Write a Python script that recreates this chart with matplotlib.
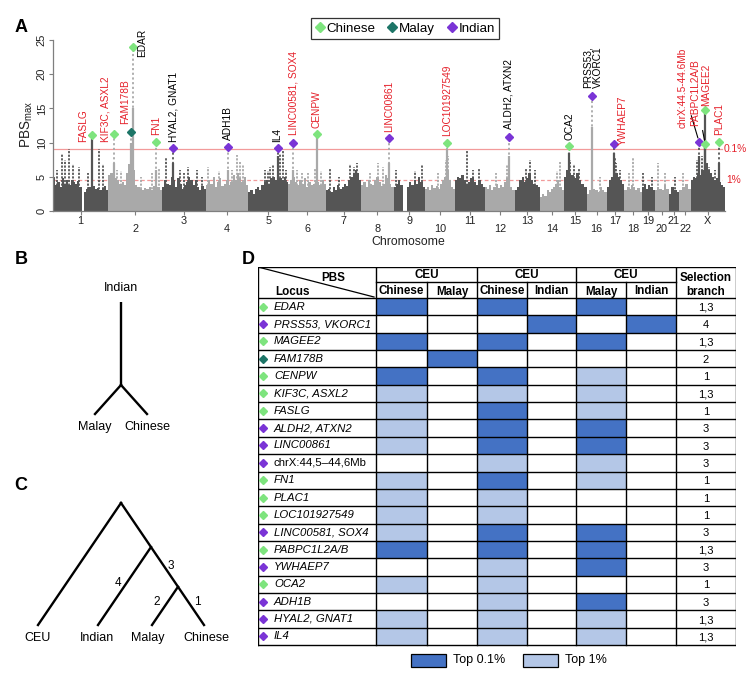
import matplotlib
matplotlib.use("Agg")
import matplotlib.pyplot as plt
from matplotlib.lines import Line2D
from matplotlib.patches import Rectangle
from matplotlib.transforms import blended_transform_factory

plt.rcParams['font.family'] = ['Liberation Sans', 'DejaVu Sans']
plt.rcParams['mathtext.fontset'] = 'custom'
plt.rcParams['mathtext.rm'] = 'Liberation Sans'
plt.rcParams['mathtext.it'] = 'Liberation Sans:italic'

W, H = 748, 674

# ---------------- data: panel A (Manhattan plot) ----------------
chrom_names = [str(i) for i in range(1, 23)] + ['X']
chrom_len = [249, 243, 198, 191, 181, 171, 159, 146, 141, 136, 135, 134,
             115, 107, 103, 90, 81, 78, 59, 63, 48, 51, 155]

base_profile = [
    [4.8, 3.8, 4.2, 3.5, 4.8, 4.0, 4.5, 3.8, 4.6, 4.2, 4.0, 4.4, 3.5, 0.0, 2.8, 3.2, 3.5, 3.0, 3.6, 3.2, 3.4, 3.0, 3.3, 3.6, 3.0],
    [5.2, 5.5, 5.0, 4.8, 4.5, 4.0, 4.2, 3.8, 5.5, 6.8, 7.0, 6.0, 3.8, 3.5, 3.2, 3.0, 3.4, 3.2, 3.5, 3.0, 3.6, 4.5, 3.5, 3.0],
    [3.5, 4.5, 4.0, 3.8, 5.0, 4.5, 3.5, 4.8, 4.0, 3.2, 3.8, 4.2, 5.0, 4.5, 3.8, 4.5, 3.5, 3.0, 3.6, 3.2],
    [3.8, 4.5, 4.0, 5.0, 3.5, 4.2, 4.8, 3.6, 4.0, 4.5, 3.8, 4.2, 5.2, 4.5, 5.5, 4.8, 4.2, 5.0, 3.8],
    [2.8, 3.0, 2.5, 3.2, 3.5, 3.0, 3.8, 4.2, 4.5, 4.0, 4.8, 5.0, 4.5, 5.2, 4.8, 4.5, 5.0, 4.2],
    [4.0, 4.5, 5.0, 4.2, 3.8, 4.5, 4.0, 4.8, 3.5, 4.2, 3.8, 4.0, 4.6, 4.2, 3.8, 4.5, 4.0],
    [3.0, 3.2, 2.8, 3.5, 3.0, 3.8, 3.2, 3.5, 4.0, 3.6, 4.5, 5.0, 5.5, 6.0, 5.5, 4.5],
    [3.8, 4.2, 3.5, 4.5, 4.0, 3.8, 4.6, 5.0, 4.2, 3.6, 4.0, 5.2, 4.8, 4.0, 3.5],
    [3.5, 4.0, 4.5, 3.8, 0.0, 0.0, 3.5, 4.2, 3.8, 4.5, 4.0, 5.0, 4.2, 3.5],
    [3.2, 3.5, 3.0, 3.8, 3.4, 3.6, 3.2, 4.0, 4.5, 5.0, 6.0, 4.5, 3.5, 3.2],
    [4.5, 5.0, 4.8, 5.2, 4.5, 4.0, 4.2, 4.8, 5.0, 4.2, 3.8, 4.5, 4.0, 3.5],
    [3.5, 3.2, 3.8, 3.0, 3.5, 4.0, 3.3, 3.8, 3.5, 4.2, 4.8, 4.0, 3.5, 3.0],
    [3.0, 3.5, 4.5, 5.0, 4.2, 4.8, 5.5, 4.5, 4.0, 3.8, 3.5],
    [2.0, 2.5, 2.2, 3.0, 2.8, 3.2, 3.5, 4.0, 4.5, 3.5, 3.0],
    [5.0, 6.0, 5.5, 5.2, 4.8, 5.5, 4.5, 4.0, 3.5],
    [2.5, 3.0, 4.5, 3.2, 3.0, 2.8, 3.5, 3.0, 2.8],
    [3.5, 4.5, 5.0, 6.0, 5.5, 5.0, 4.5, 4.0],
    [3.0, 3.5, 3.2, 3.8, 3.5, 3.0, 3.3, 2.8],
    [3.5, 4.0, 3.2, 3.8, 3.5, 3.0],
    [3.0, 3.5, 3.2, 3.0, 3.8, 3.2],
    [2.5, 3.5, 3.0, 2.8],
    [3.0, 3.5, 4.0, 3.2],
    [4.5, 5.0, 4.8, 5.5, 5.2, 6.0, 6.5, 7.0, 6.0, 5.5, 5.0, 4.5, 4.8, 4.2, 3.8, 3.5],
]

# thin columns of points rising above the mass (chromosome index, Mb, PBSmax)
spike_chr = [1, 1, 1, 1, 1, 1, 1, 1, 1, 1,
             2, 2, 2, 2, 2,
             3, 3, 3, 3, 3, 3,
             4, 4, 4, 4, 4, 4,
             5, 5, 5, 5, 5, 5, 5,
             6, 6, 6, 6, 6,
             7, 7, 7, 7, 7,
             8, 8, 8,
             9, 9, 9,
             10, 10, 10,
             11, 11, 11,
             12, 12,
             13, 13, 13,
             14, 14,
             15, 15, 15,
             16,
             17, 17, 17,
             18, 18,
             19, 19,
             20, 20,
             21,
             22,
             23, 23, 23, 23]
spike_pos = [6, 39, 54, 72, 92, 119, 208, 227, 20, 160,
             40, 60, 150, 200, 230,
             17, 119, 157, 80, 100, 180,
             10, 142, 154, 169, 60, 120,
             76, 91, 114, 144, 159, 100, 170,
             40, 60, 122, 150, 90,
             18, 108, 138, 125, 60,
             77, 100, 40,
             10, 126, 95,
             95, 106, 60,
             56, 80, 110,
             100, 50,
             70, 50, 90,
             90, 75,
             30, 45, 70,
             60,
             38, 45, 60,
             40, 20,
             5, 45,
             16, 45,
             30,
             18,
             30, 50, 85, 110]
spike_val = [5.0, 8.3, 7.4, 9.0, 6.9, 6.4, 9.0, 6.9, 6.0, 5.5,
             6.0, 5.8, 5.0, 5.5, 6.2,
             7.9, 6.4, 6.0, 6.0, 5.5, 5.0,
             6.4, 8.2, 7.2, 6.7, 5.8, 6.0,
             6.0, 5.8, 6.7, 8.4, 8.9, 6.5, 6.0,
             6.0, 5.5, 6.2, 5.8, 5.5,
             6.3, 6.8, 7.0, 6.5, 5.0,
             7.0, 6.5, 5.5,
             6.0, 6.7, 5.8,
             7.5, 8.0, 5.5,
             8.7, 6.0, 6.2,
             6.7, 5.5,
             7.5, 6.2, 6.0,
             7.2, 5.8,
             7.5, 6.8, 6.2,
             5.0,
             7.8, 7.0, 6.0,
             7.7, 5.5,
             5.5, 5.0,
             7.0, 5.5,
             5.0,
             5.5,
             7.5, 8.0, 6.5, 6.0]

# highlighted candidate loci
peak_name = ['FASLG', 'KIF3C, ASXL2', 'FAM178B', 'EDAR', 'FN1', 'HYAL2, GNAT1', 'ADH1B', 'IL4',
             'LINC00581, SOX4', 'CENPW', 'LINC00861', 'LOC101927549', 'ALDH2, ATXN2', 'OCA2',
             'PRSS53,\nVKORC1', 'YWHAEP7', 'chrX:44.5-44.6Mb', 'PABPC1L2A/B', 'MAGEE2', 'PLAC1']
peak_chr = [1, 2, 2, 2, 2, 3, 4, 5, 6, 6, 8, 10, 12, 15, 16, 17, 23, 23, 23, 23]
peak_pos = [176, 26, 103, 110, 216, 50, 100, 133, 23, 128, 125, 101, 107, 24, 25, 32, 38, 66, 66, 128]
peak_val = [11.1, 11.2, 11.6, 24.0, 10.1, 9.2, 9.35, 9.15, 10.0, 11.2, 10.7, 10.0, 10.8, 9.45,
            16.8, 9.8, 10.1, 9.75, 14.7, 10.1]
peak_dense = [10.5, 7.0, 10.0, 15.0, 6.0, 7.0, 6.0, 8.0, 6.0, 11.2, 7.0, 9.0, 8.0, 8.5,
              12.3, 8.5, 8.0, 9.75, 14.7, 7.0]
peak_pop = ['Chinese', 'Chinese', 'Malay', 'Chinese', 'Chinese', 'Indian', 'Indian', 'Indian',
            'Indian', 'Chinese', 'Indian', 'Chinese', 'Indian', 'Chinese', 'Indian', 'Indian',
            'Indian', 'Chinese', 'Chinese', 'Chinese']
peak_red = [True, True, True, False, True, False, False, False, True, True, True, True, False,
            False, False, True, True, True, True, True]
# label placement relative to marker (px right, px up)
label_dx = [-9, -8, -6, 9.3, 0, 0, 0, 0, 0, 0, 0, 0, 0, 0, 0.7, 9.3, -16, -10, 0.7, 0]
label_up = [-7, -7.5, 7.7, -10, 6.7, 6, 7, 6, 7.7, 6, 6, 7, 8, 6, 8, -1, 13.7, 18, 4, 7]
label_leader = [False] * 16 + [True, True, False, False]

thr_top01 = 9.0
thr_top1 = 4.5

pop_names = ['Chinese', 'Malay', 'Indian']
pop_colors = {'Chinese': '#7ee47e', 'Malay': '#1d7567', 'Indian': '#7a34d6'}
RED = '#e5212b'
DARK, LIGHT = '#555555', '#a9a9a9'

# ---------------- data: panel D (table) ----------------
loci = ['EDAR', 'PRSS53, VKORC1', 'MAGEE2', 'FAM178B', 'CENPW', 'KIF3C, ASXL2', 'FASLG',
        'ALDH2, ATXN2', 'LINC00861', 'chrX:44,5\u201344,6Mb', 'FN1', 'PLAC1', 'LOC101927549',
        'LINC00581, SOX4', 'PABPC1L2A/B', 'YWHAEP7', 'OCA2', 'ADH1B', 'HYAL2, GNAT1', 'IL4']
locus_pop = ['Chinese', 'Indian', 'Chinese', 'Malay', 'Chinese', 'Chinese', 'Chinese', 'Indian',
             'Indian', 'Indian', 'Chinese', 'Chinese', 'Chinese', 'Indian', 'Chinese', 'Indian',
             'Chinese', 'Indian', 'Indian', 'Indian']
locus_italic = [True] * 9 + [False] + [True] * 10
# 2 = top 0.1%, 1 = top 1%, 0 = none
levels = [
    [2, 0, 2, 0, 2, 0],
    [0, 0, 0, 2, 0, 2],
    [2, 0, 2, 0, 2, 0],
    [0, 2, 0, 0, 0, 0],
    [2, 0, 2, 0, 1, 0],
    [1, 0, 1, 0, 1, 0],
    [1, 0, 2, 0, 1, 0],
    [1, 0, 2, 0, 2, 0],
    [1, 0, 2, 0, 2, 0],
    [0, 0, 1, 0, 1, 0],
    [1, 0, 2, 0, 1, 0],
    [1, 0, 1, 0, 0, 0],
    [1, 0, 1, 0, 0, 0],
    [1, 0, 2, 0, 2, 0],
    [2, 0, 2, 0, 2, 0],
    [0, 0, 1, 0, 2, 0],
    [1, 0, 1, 0, 0, 0],
    [0, 0, 1, 0, 2, 0],
    [1, 0, 1, 0, 1, 0],
    [1, 0, 1, 0, 1, 0],
]
branch = ['1,3', '4', '1,3', '2', '1', '1,3', '1', '3', '3', '3', '1', '1', '1', '3', '1,3',
          '3', '1', '3', '1,3', '1,3']
group_names = ['CEU', 'CEU', 'CEU']
sub_names = ['Chinese', 'Malay', 'Chinese', 'Indian', 'Malay', 'Indian']
level_colors = {2: '#4472c4', 1: '#b4c7e7'}

# ---------------- figure ----------------
fig = plt.figure(figsize=(W / 100, H / 100), dpi=100)
fig.patch.set_facecolor('white')


def rect(x0, y0, x1, y1):
    return [x0 / W, 1 - y1 / H, (x1 - x0) / W, (y1 - y0) / H]


# ===== Panel A =====
ax = fig.add_axes(rect(53, 40, 725, 211))
offsets = []
acc = 0
for L in chrom_len:
    offsets.append(acc)
    acc += L
total = acc
ax.set_xlim(0, total)
ax.set_ylim(0, 25)

for i, (L, prof) in enumerate(zip(chrom_len, base_profile)):
    col = DARK if i % 2 == 0 else LIGHT
    w = L / len(prof)
    xs = [offsets[i] + (k + 0.5) * w for k in range(len(prof))]
    ax.bar(xs, prof, width=w, color=col, linewidth=0, zorder=2)

for c, p, v in zip(spike_chr, spike_pos, spike_val):
    col = DARK if (c - 1) % 2 == 0 else LIGHT
    ax.vlines(offsets[c - 1] + p, 0, v, color=col, lw=1.3, linestyles=(0, (1.2, 0.8)), zorder=2)

for c, p, v, d in zip(peak_chr, peak_pos, peak_val, peak_dense):
    col = DARK if (c - 1) % 2 == 0 else LIGHT
    xpos = offsets[c - 1] + p
    ax.vlines(xpos, 0, v, color=col, lw=1.3, linestyles=(0, (1.2, 1.4)), zorder=2)
    ax.vlines(xpos, 0, d, color=col, lw=1.6, zorder=2)

ax.axhline(thr_top01, xmin=0, xmax=0.995, color='#f29a9a', lw=0.9, zorder=1)
ax.axhline(thr_top1, xmin=0, xmax=0.995, color='#f29a9a', lw=0.9, ls=(0, (3, 2)), zorder=1)
thr_tr = blended_transform_factory(fig.transFigure, ax.transData)
ax.text(746.5 / W, thr_top01, '0.1%', transform=thr_tr, color=RED,
        fontsize=7.4, va='center', ha='right')
ax.text(726 / W, thr_top1, '1%', transform=thr_tr, color=RED,
        fontsize=7.4, va='center', ha='left')

for i in range(len(peak_name)):
    xpos = offsets[peak_chr[i] - 1] + peak_pos[i]
    ax.plot(xpos, peak_val[i], marker='D', ms=4.2, color=pop_colors[peak_pop[i]],
            mec=pop_colors[peak_pop[i]], ls='', zorder=4)
    kw = {}
    if label_leader[i]:
        kw['arrowprops'] = dict(arrowstyle='-', color='black', lw=0.8, shrinkA=1, shrinkB=3)
    ax.annotate(peak_name[i], xy=(xpos, peak_val[i]),
                xytext=(label_dx[i] * 0.72, label_up[i] * 0.72), textcoords='offset points',
                rotation=90, ha='center', va='bottom', multialignment='left',
                fontsize=7.3, color=RED if peak_red[i] else 'black',
                linespacing=1.05, zorder=5, annotation_clip=False, **kw)

for s in ['top', 'right']:
    ax.spines[s].set_visible(False)
for s in ['left', 'bottom']:
    ax.spines[s].set_color('#7f7f7f')
    ax.spines[s].set_linewidth(0.9)
ax.set_yticks([0, 5, 10, 15, 20, 25])
ax.tick_params(axis='y', labelsize=8, length=3, color='#7f7f7f', labelcolor='#222222',
               labelrotation=90, pad=1.5)
for t in ax.get_yticklabels():
    t.set_va('center')
centers = [offsets[i] + chrom_len[i] / 2 for i in range(len(chrom_len))]
ax.set_xticks(centers)
ax.set_xticklabels([])
ax.tick_params(axis='x', length=3, color='#7f7f7f')
for i, (cx, nm) in enumerate(zip(centers, chrom_names)):
    ypos = -0.058 if i % 2 == 0 else -0.107
    ax.text(cx, ypos, nm, transform=ax.get_xaxis_transform(), ha='center', va='center',
            fontsize=7.8, color='#222222')

fig.text(408 / W, 1 - 242 / H, 'Chromosome', ha='center', va='center', fontsize=8.8,
         color='#222222')
fig.text(27 / W, 1 - 124 / H, 'PBS$_{\\mathrm{max}}$', ha='center', va='center', fontsize=9.8,
         rotation=90, color='#222222')

handles = [Line2D([], [], marker='D', ls='', ms=5.5, color=pop_colors[p], mec=pop_colors[p])
           for p in pop_names]
leg = ax.legend(handles, pop_names, loc='center', bbox_to_anchor=(405 / W, 1 - 28.5 / H),
                bbox_transform=fig.transFigure, ncol=3, fontsize=9.6, frameon=True,
                fancybox=False, edgecolor='black', handlelength=0.7, handletextpad=0.15,
                columnspacing=0.9, borderpad=0.3, borderaxespad=0)
leg.get_frame().set_linewidth(0.9)

# ===== Overlay for panels B, C and panel letters =====
ov = fig.add_axes([0, 0, 1, 1])
ov.set_xlim(0, W)
ov.set_ylim(H, 0)
ov.axis('off')

for letter, (lx, ly) in {'A': (21, 27), 'B': (21, 259), 'C': (21, 486), 'D': (248, 259)}.items():
    ov.text(lx, ly, letter, fontsize=13, fontweight='bold', ha='center', va='center')

TREE_LW = 1.7
# Panel B tree
b_leaves = ['Malay', 'Chinese']
b_leaf_x = [95, 147]
b_leaf_y = 414
b_node_y = 385
b_top_y = 302
b_node_x = (b_leaf_x[0] + b_leaf_x[1]) / 2
ov.plot([b_node_x, b_node_x], [b_top_y, b_node_y], color='black', lw=TREE_LW,
        solid_capstyle='butt')
for lx in b_leaf_x:
    ov.plot([b_node_x, lx], [b_node_y, b_leaf_y], color='black', lw=TREE_LW)
ov.text(b_node_x, 288, 'Indian', ha='center', va='center', fontsize=9)
for nm, lx in zip(b_leaves, b_leaf_x):
    ov.text(lx, 427, nm, ha='center', va='center', fontsize=9)

# Panel C tree (slanted cladogram)
c_leaves = ['CEU', 'Indian', 'Malay', 'Chinese']
c_leaf_x = [38, 98, 152, 204]
c_leaf_y = 625
slope = 0.68


def node(xl, xr):
    return ((xl + xr) / 2, c_leaf_y - (xr - xl) / 2 / slope)


n1 = node(c_leaf_x[2], c_leaf_x[3])
n2 = node(c_leaf_x[1], c_leaf_x[3])
root = node(c_leaf_x[0], c_leaf_x[3])
c_segments = [(root, (c_leaf_x[0], c_leaf_y)), (root, (c_leaf_x[3], c_leaf_y)),
              (n2, (c_leaf_x[1], c_leaf_y)), (n1, (c_leaf_x[2], c_leaf_y))]
for (x0, y0), (x1, y1) in c_segments:
    ov.plot([x0, x1], [y0, y1], color='black', lw=TREE_LW)
c_label_x = [38, 97, 148, 206]
for nm, lx in zip(c_leaves, c_label_x):
    ov.text(lx, 638, nm, ha='center', va='center', fontsize=9)
branch_labels = {'3': (171, 566), '4': (118, 583), '2': (157, 602), '1': (197, 602)}
for k, (bx, by) in branch_labels.items():
    ov.text(bx, by, k, ha='center', va='center', fontsize=8.5)

# ===== Panel D table =====
td = fig.add_axes(rect(258, 267, 736, 670))
td.set_xlim(0, 478)
td.set_ylim(403, 0)
td.axis('off')
col_w = [118, 51, 50, 50, 49, 50, 50, 60]
col_edges = [0]
for cw in col_w:
    col_edges.append(col_edges[-1] + cw)
hdr_sub = 15
hdr_h = 31
row_h = 17.35
n_rows = len(loci)
tbl_bottom = hdr_h + n_rows * row_h
LW = 1.0

for r in range(n_rows):
    y0 = hdr_h + r * row_h
    for c in range(6):
        lv = levels[r][c]
        if lv:
            td.add_patch(Rectangle((col_edges[1 + c], y0), col_edges[2 + c] - col_edges[1 + c],
                                   row_h, facecolor=level_colors[lv], edgecolor='none', zorder=1))
    yc = y0 + row_h / 2
    td.plot(5, yc, marker='D', ms=3.6, color=pop_colors[locus_pop[r]],
            mec=pop_colors[locus_pop[r]], zorder=3)
    td.text(16, yc, loci[r], ha='left', va='center', fontsize=8.2,
            style='italic' if locus_italic[r] else 'normal', zorder=3)
    td.text((col_edges[7] + col_edges[8]) / 2, yc + 1.2, branch[r], ha='center', va='center',
            fontsize=8, zorder=3)

# grid lines
td.plot([0, col_edges[-1]], [0, 0], color='black', lw=LW, zorder=2)
td.plot([col_edges[1], col_edges[7]], [hdr_sub, hdr_sub], color='black', lw=LW, zorder=2)
for r in range(n_rows + 1):
    yy = hdr_h + r * row_h
    td.plot([0, col_edges[-1]], [yy, yy], color='black', lw=LW, zorder=2)
for j, xe in enumerate(col_edges):
    top = hdr_sub if j in (2, 4, 6) else 0
    td.plot([xe, xe], [top, tbl_bottom], color='black', lw=LW, zorder=2)
td.plot([0, col_edges[1] - 2], [0, hdr_h - 1], color='black', lw=0.9, zorder=2)

# header text
td.text(75, 11, 'PBS', ha='center', va='center', fontsize=8.4, fontweight='bold')
td.text(35, 25, 'Locus', ha='center', va='center', fontsize=8.4, fontweight='bold')
for g, gname in enumerate(group_names):
    gx = (col_edges[1 + 2 * g] + col_edges[3 + 2 * g]) / 2
    td.text(gx, 7.5, gname, ha='center', va='center', fontsize=8.4, fontweight='bold')
for c, sname in enumerate(sub_names):
    sx = (col_edges[1 + c] + col_edges[2 + c]) / 2
    td.text(sx, 24.5, sname, ha='center', va='center', fontsize=8.4, fontweight='bold')
sel_x = (col_edges[7] + col_edges[8]) / 2
td.text(sel_x, 11, 'Selection', ha='center', va='center', fontsize=8.4, fontweight='bold')
td.text(sel_x, 25, 'branch', ha='center', va='center', fontsize=8.4, fontweight='bold')

# table legend
legend_items = [(2, 'Top 0.1%', 153), (1, 'Top 1%', 265)]
for lv, txt, lx in legend_items:
    td.add_patch(Rectangle((lx, 387), 35, 13, facecolor=level_colors[lv], edgecolor='black',
                           lw=0.9))
    td.text(lx + 42, 393.5, txt, ha='left', va='center', fontsize=9)

fig.savefig('out.png', dpi=100, facecolor='white')
